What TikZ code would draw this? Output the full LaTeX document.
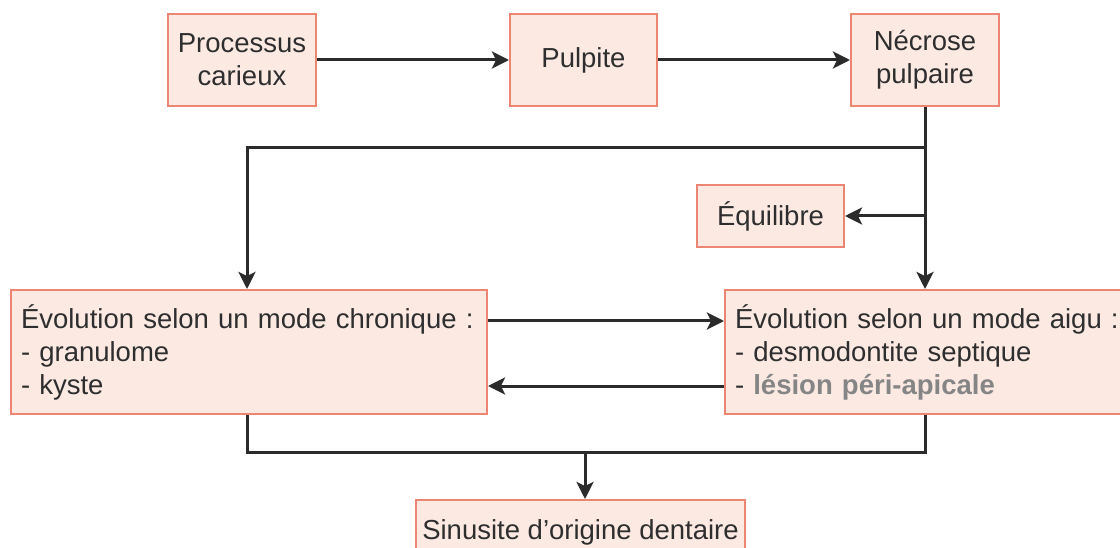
\documentclass[tikz,border=0pt]{standalone}
\usepackage{fontspec}
\setmainfont{Liberation Sans}
\usetikzlibrary{arrows.meta,positioning}
\definecolor{boxfill}{HTML}{FCEAE2}
\definecolor{boxline}{HTML}{EC8672}
\definecolor{txt}{HTML}{2E2E2E}
\definecolor{conn}{HTML}{2B2B2B}
\definecolor{lightt}{HTML}{858585}
\begin{document}
\begin{tikzpicture}[x=1pt,y=-1pt,
  box/.style={draw=boxline,fill=boxfill,line width=2pt,text=txt,inner sep=0pt,
    font=\fontsize{27.5}{33}\selectfont,align=center},
  listbox/.style={box,align=left,inner xsep=10pt},
  conn/.style={draw=conn,line width=3pt},
  arr/.style={conn,-{Stealth[length=17pt,width=17pt,inset=4pt]}}]
\useasboundingbox (0,0) rectangle (1120,548);
\clip (0,0) rectangle (1120,548);
\node[box,minimum width=148pt,minimum height=92pt] (pc) at (242,60) {Processus\\carieux};
\node[box,minimum width=147pt,minimum height=92pt] (pu) at (583.5,60) {Pulpite};
\node[box,minimum width=148pt,minimum height=92pt] (nec) at (925,60) {Nécrose\\pulpaire};
\node[box,minimum width=147pt,minimum height=62pt] (equ) at (770.5,216) {Équilibre};
\node[listbox,text width=456pt,minimum height=124pt] (chr) at (249,352)
  {Évolution selon un mode chronique :\\- granulome\\- kyste};
\node[listbox,text width=384pt,minimum height=124pt] (aig) at (927,352)
  {Évolution selon un mode aigu :\\- desmodontite septique\\- {\color{lightt}\bfseries lésion péri-apicale}};
\node[box,minimum width=329pt,minimum height=64pt] (sin) at (580.5,532) {Sinusite d’origine dentaire};
% connectors
\draw[arr] (pc.east) -- (pu.west);
\draw[arr] (pu.east) -- (nec.west);
\coordinate (j1) at (925,148);
\coordinate (j2) at (925,216);
\coordinate (cl) at (247,148);
\draw[arr] (nec.south) -- (nec.south |- aig.north);
\draw[arr] (j1) -- (cl) -- (cl |- chr.north);
\draw[arr] (j2) -- (equ.east);
\coordinate (ra) at (chr.east |- 0,321);
\coordinate (rb) at (chr.east |- 0,386);
\draw[arr] (ra) -- (ra -| aig.west);
\draw[arr] (rb -| aig.west) -- (rb);
\coordinate (b1) at (247,452);
\coordinate (b2) at (925,452);
\coordinate (b3) at (585,452);
\draw[conn] (b1 |- chr.south) -- (b1) -- (b2) -- (b2 |- aig.south);
\draw[arr] (b3) -- (b3 |- sin.north);
\end{tikzpicture}
\end{document}
